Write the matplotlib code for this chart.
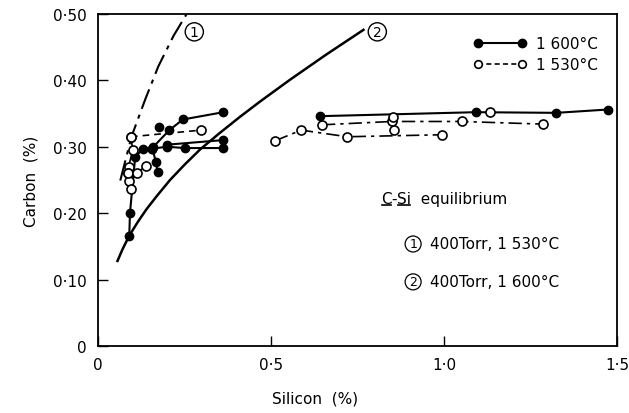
import matplotlib
matplotlib.use('Agg')
import matplotlib.pyplot as plt
from matplotlib.lines import Line2D

plt.rcParams['font.family'] = ['DejaVu Sans', 'Noto Sans CJK JP']

# --- 1600 C runs (filled markers, solid lines)
hot_a_si = [0.090, 0.092, 0.107, 0.129, 0.157, 0.198, 0.250, 0.362]
hot_a_c = [0.165, 0.200, 0.284, 0.297, 0.297, 0.300, 0.298, 0.298]
hot_b_si = [0.157, 0.167, 0.172]
hot_b_c = [0.297, 0.277, 0.262]
hot_c_si = [0.160, 0.206, 0.245, 0.362]
hot_c_c = [0.300, 0.325, 0.341, 0.352]
hot_d_si = [0.198, 0.362]
hot_d_c = [0.303, 0.310]
hot_r_si = [0.642, 1.093, 1.324, 1.473]
hot_r_c = [0.346, 0.352, 0.351, 0.356]
hot_pts_si = [0.177, 0.849]
hot_pts_c = [0.329, 0.338]

# --- 1530 C runs (open markers, broken lines)
cold_a_si = [0.095, 0.298]
cold_a_c = [0.315, 0.325]
cold_b_si = [0.095, 0.100, 0.088, 0.085, 0.088, 0.095]
cold_b_c = [0.315, 0.295, 0.270, 0.260, 0.249, 0.237]
cold_c_si = [0.085, 0.112, 0.137]
cold_c_c = [0.260, 0.260, 0.271]
cold_r1_si = [0.512, 0.587, 0.720, 0.993]
cold_r1_c = [0.309, 0.325, 0.315, 0.318]
cold_r2_si = [0.647, 0.849, 1.051, 1.287]
cold_r2_c = [0.333, 0.338, 0.338, 0.334]
cold_pts_si = [0.851, 0.855, 1.133]
cold_pts_c = [0.345, 0.325, 0.352]

# --- C-Si equilibrium curves
eq1_si = [0.064, 0.097, 0.136, 0.174, 0.218, 0.256]
eq1_c = [0.249, 0.316, 0.371, 0.421, 0.467, 0.500]
eq2_si = [0.056, 0.070, 0.090, 0.115, 0.140, 0.170, 0.208, 0.250, 0.295,
          0.350, 0.410, 0.468, 0.555, 0.660, 0.767]
eq2_c = [0.128, 0.145, 0.166, 0.187, 0.206, 0.226, 0.250, 0.273, 0.296,
         0.320, 0.345, 0.368, 0.401, 0.439, 0.476]

x_ticks = [0, 0.5, 1.0, 1.5]
x_labels = ['0', '0\u00b75', '1\u00b70', '1\u00b75']
y_ticks = [0, 0.1, 0.2, 0.3, 0.4, 0.5]
y_labels = ['0', '0\u00b710', '0\u00b720', '0\u00b730', '0\u00b740', '0\u00b750']

fig = plt.figure(figsize=(6.29, 4.14), dpi=100)
ax = fig.add_axes([0.156, 0.162, 0.825, 0.802])

hot = dict(color='black', marker='o', ms=6, mfc='black', mec='black', lw=1.5)
cold = dict(color='black', marker='o', ms=6.5, mfc='white', mec='black', mew=1.2, lw=1.2)

ax.plot(eq1_si, eq1_c, color='black', lw=1.5, ls=(0, (10, 3, 2, 3)))
ax.plot(eq2_si, eq2_c, color='black', lw=1.8)

for s, c in [(hot_a_si, hot_a_c), (hot_b_si, hot_b_c), (hot_c_si, hot_c_c),
             (hot_d_si, hot_d_c), (hot_r_si, hot_r_c)]:
    ax.plot(s, c, **hot)
ax.plot(hot_pts_si, hot_pts_c, ls='none', **{k: v for k, v in hot.items() if k != 'lw'})

ax.plot(cold_a_si, cold_a_c, ls=(0, (4, 3)), **cold)
ax.plot(cold_b_si, cold_b_c, ls='-', **cold)
ax.plot(cold_c_si, cold_c_c, ls='-', **cold)
ax.plot(cold_r1_si, cold_r1_c, ls=(0, (8, 3, 2, 3)), **cold)
ax.plot(cold_r2_si, cold_r2_c, ls=(0, (8, 3, 2, 3)), **cold)
ax.plot(cold_pts_si, cold_pts_c, ls='none', **{k: v for k, v in cold.items() if k != 'lw'})

ax.set_xlim(0, 1.5)
ax.set_ylim(0, 0.5)
ax.set_xticks(x_ticks)
ax.set_xticklabels(x_labels, fontsize=11)
ax.set_yticks(y_ticks)
ax.set_yticklabels(y_labels, fontsize=11)
ax.tick_params(direction='in', length=7, width=1, pad=8)
for sp in ax.spines.values():
    sp.set_linewidth(1.3)

ax.set_xlabel('Silicon  (%)', fontsize=11)
ax.xaxis.set_label_coords(0.418, -0.135)
ax.set_ylabel('Carbon  (%)', fontsize=11)
ax.yaxis.set_label_coords(-0.115, 0.5)

circ = dict(boxstyle='circle,pad=0.15', fc='white', ec='black', lw=1)
ax.text(0.278, 0.473, '1', fontsize=10, ha='center', va='center', bbox=circ)
ax.text(0.807, 0.473, '2', fontsize=10, ha='center', va='center', bbox=circ)

handles = [Line2D([], [], **hot), Line2D([], [], ls=(0, (3, 2)), **{**cold, 'ms': 5.5})]
ax.legend(handles, ['1 600\u00b0C', '1 530\u00b0C'], loc='upper right',
          bbox_to_anchor=(0.99, 0.975), frameon=False, fontsize=11,
          numpoints=2, handlelength=3.5, handletextpad=0.6, labelspacing=0.4)

# "C-Si equilibrium" with C and Si underlined
t_c = ax.text(0.545, 0.43, 'C', transform=ax.transAxes, fontsize=11, va='baseline')
t_dash = ax.annotate('-', xy=(1, 0), xycoords=t_c, fontsize=11, va='bottom')
t_si = ax.annotate('Si', xy=(1, 0), xycoords=t_dash, fontsize=11, va='bottom')
ax.annotate('  equilibrium', xy=(1, 0), xycoords=t_si, fontsize=11, va='bottom')

small_circ = dict(boxstyle='circle,pad=0.12', fc='white', ec='black', lw=0.9)
for y, num, txt in [(0.307, '1', '400Torr, 1 530\u00b0C'),
                    (0.193, '2', '400Torr, 1 600\u00b0C')]:
    ax.text(0.607, y, num, transform=ax.transAxes, fontsize=9,
            ha='center', va='center', bbox=small_circ)
    ax.text(0.64, y, txt, transform=ax.transAxes, fontsize=11, va='center')

fig.canvas.draw()
rend = fig.canvas.get_renderer()
inv = fig.transFigure.inverted()
for t in (t_c, t_si):
    bb = t.get_window_extent(rend)
    (x0, y0), (x1, _) = inv.transform([(bb.x0 + 1, bb.y0 + 1), (bb.x1 - 1, bb.y0)])
    fig.add_artist(Line2D([x0, x1], [y0, y0], color='black', lw=1.2,
                          transform=fig.transFigure))

fig.savefig('out.png', dpi=100)
